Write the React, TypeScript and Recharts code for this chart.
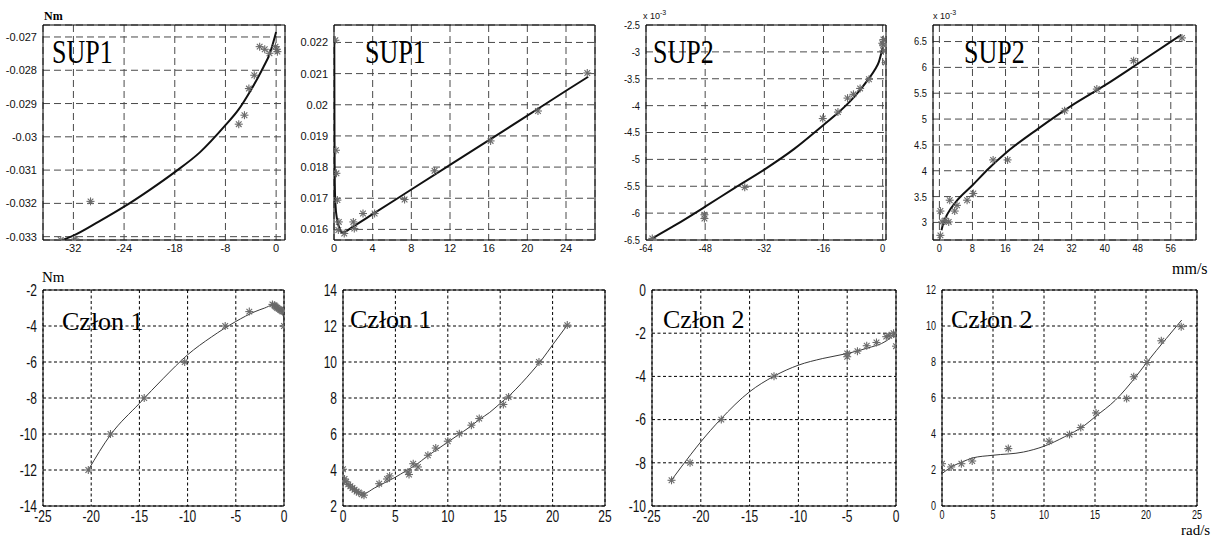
import React from "react";
import { ScatterChart, Scatter, XAxis, YAxis, CartesianGrid, ReferenceArea } from "recharts";

// SUP1, negative velocity (top row, 1st)
const sup1NegCurveX = [-34, -32, -28, -24, -20, -16, -12, -8, -6, -4, -2, -1, 0];
const sup1NegCurveY = [-0.03312, -0.03297, -0.03255, -0.0321, -0.0316, -0.03106, -0.03046, -0.02965, -0.0292, -0.0286, -0.0279, -0.0275, -0.02685];
const sup1NegPtsX = [-34.0, -31.7, -29.3, -5.9, -5.0, -4.3, -3.45, -2.6, -1.8, -1.05, -0.1, 0.2, 0.1];
const sup1NegPtsY = [-0.0331, -0.03307, -0.03194, -0.02962, -0.02935, -0.02855, -0.02815, -0.02729, -0.02737, -0.02749, -0.02729, -0.02744, -0.02737];
const sup1NegXTicks = [-32, -24, -16, -8, 0];
const sup1NegXLabels = ["-32", "-24", "-18", "-8", "0"]; // "-18" is how the original is labelled
const sup1NegYTicks = [-0.033, -0.032, -0.031, -0.03, -0.029, -0.028, -0.027];
const sup1NegYLabels = ["-0.033", "-0.032", "-0.031", "-0.03", "-0.029", "-0.028", "-0.027"];

// SUP1, positive velocity (top row, 2nd)
const sup1PosCurveX = [0.03, 0.05, 0.08, 0.15, 0.3, 0.55, 0.9, 2, 4, 8, 12, 16, 20, 24, 26.3];
const sup1PosCurveY = [0.0221, 0.019, 0.0175, 0.0168, 0.01635, 0.01605, 0.0159, 0.0161, 0.01649, 0.01728, 0.01807, 0.01886, 0.01965, 0.02045, 0.0209];
const sup1PosPtsX = [0.14, 0.2, 0.25, 0.35, 0.5, 0.45, 1.06, 2.0, 2.1, 3.0, 4.2, 7.3, 10.4, 16.2, 21.1, 26.2];
const sup1PosPtsY = [0.02207, 0.01854, 0.0178, 0.01694, 0.01624, 0.01598, 0.01587, 0.01624, 0.01603, 0.01651, 0.01651, 0.01696, 0.01788, 0.01884, 0.0198, 0.02102];
const sup1PosXTicks = [0, 4, 8, 12, 16, 20, 24];
const sup1PosXLabels = ["0", "4", "8", "12", "16", "20", "24"];
const sup1PosYTicks = [0.016, 0.017, 0.018, 0.019, 0.02, 0.021, 0.022];
const sup1PosYLabels = ["0.016", "0.017", "0.018", "0.019", "0.02", "0.021", "0.022"];

// SUP2, negative velocity, values x 10^-3 (top row, 3rd)
const sup2NegCurveX = [-62.3, -56, -48, -40, -32, -24, -16, -12, -8, -4, -2, -1, 0];
const sup2NegCurveY = [-6.47, -6.22, -5.88, -5.53, -5.19, -4.81, -4.36, -4.13, -3.86, -3.52, -3.32, -3.18, -2.92];
const sup2NegPtsX = [-62.3, -48.2, -48.2, -37.3, -16.2, -12.1, -9.5, -7.9, -6.1, -3.7, 0.2, 0.1, 0.2, 0.8, -0.1];
const sup2NegPtsY = [-6.47, -6.03, -6.1, -5.52, -4.24, -4.12, -3.86, -3.79, -3.68, -3.51, -2.77, -2.87, -2.98, -3.2, -2.84];
const sup2NegXTicks = [-64, -48, -32, -16, 0];
const sup2NegXLabels = ["-64", "-48", "-32", "-16", "0"];
const sup2NegYTicks = [-6.5, -6, -5.5, -5, -4.5, -4, -3.5, -3, -2.5];
const sup2NegYLabels = ["-6.5", "-6", "-5.5", "-5", "-4.5", "-4", "-3.5", "-3", "-2.5"];

// SUP2, positive velocity, values x 10^-3 (top row, 4th)
const sup2PosCurveX = [0.5, 1, 2, 4, 8, 12, 16, 24, 32, 40, 48, 58.5];
const sup2PosCurveY = [2.85, 3.0, 3.17, 3.4, 3.72, 4.05, 4.34, 4.82, 5.26, 5.65, 6.07, 6.63];
const sup2PosPtsX = [0.24, 0.24, 0.65, 1.45, 2.25, 2.5, 3.7, 4.25, 6.7, 8.2, 13.0, 16.5, 30.3, 38.1, 47.0, 58.7];
const sup2PosPtsY = [3.22, 2.75, 3.01, 3.04, 3.01, 3.43, 3.22, 3.33, 3.43, 3.56, 4.21, 4.21, 5.16, 5.58, 6.13, 6.57];
const sup2PosXTicks = [0, 8, 16, 24, 32, 40, 48, 56];
const sup2PosXLabels = ["0", "8", "16", "24", "32", "40", "48", "56"];
const sup2PosYTicks = [3, 3.5, 4, 4.5, 5, 5.5, 6, 6.5];
const sup2PosYLabels = ["3", "3.5", "4", "4.5", "5", "5.5", "6", "6.5"];

// Człon 1, negative (bottom row, 1st)
const cz1NegCurveX = [-20.3, -18, -15, -12.5, -10, -7.5, -5, -3, -2, -1.2, -0.6, -0.1, 0];
const cz1NegCurveY = [-12, -10.05, -8.3, -6.9, -5.6, -4.6, -3.75, -3.2, -3.0, -2.85, -2.95, -3.3, -3.9];
const cz1NegPtsX = [-20.3, -18, -14.5, -10.3, -6.1, -3.6, -1.2, -1.0, -0.9, -0.8, -0.7, -0.55, -0.4, -0.25, -0.15, 0];
const cz1NegPtsY = [-12, -10, -8, -6, -4, -3.2, -2.8, -2.85, -2.9, -2.95, -3.0, -3.05, -3.1, -3.15, -3.2, -4.0];
const cz1NegXTicks = [-25, -20, -15, -10, -5, 0];
const cz1NegXLabels = ["-25", "-20", "-15", "-10", "-5", "0"];
const cz1NegYTicks = [-14, -12, -10, -8, -6, -4, -2];
const cz1NegYLabels = ["-14", "-12", "-10", "-8", "-6", "-4", "-2"];

// Człon 1, positive (bottom row, 2nd)
const cz1PosCurveX = [0.05, 0.5, 1, 1.5, 2, 3, 4, 5, 6, 7, 8, 9, 10, 11, 12, 13, 14, 15, 16, 17, 18, 19, 20, 21.4];
const cz1PosCurveY = [3.45, 3.15, 2.95, 2.8, 2.7, 3.0, 3.3, 3.6, 3.95, 4.3, 4.75, 5.15, 5.55, 5.95, 6.35, 6.8, 7.2, 7.7, 8.2, 8.8, 9.45, 10.15, 10.95, 12.05];
const cz1PosPtsX = [0, 0.15, 0.3, 0.5, 0.7, 0.9, 1.1, 1.3, 1.5, 1.8, 2.0, 3.45, 4.2, 4.45, 6.2, 6.3, 6.7, 7.15, 8.1, 8.85, 10.0, 11.1, 12.25, 13.0, 15.3, 15.8, 18.7, 21.4];
const cz1PosPtsY = [4.04, 3.5, 3.35, 3.2, 3.1, 3.0, 2.9, 2.8, 2.75, 2.65, 2.6, 3.24, 3.5, 3.67, 3.89, 3.75, 4.35, 4.17, 4.82, 5.22, 5.6, 6.02, 6.49, 6.86, 7.64, 8.06, 10.0, 12.05];
const cz1PosXTicks = [0, 5, 10, 15, 20, 25];
const cz1PosXLabels = ["0", "5", "10", "15", "20", "25"];
const cz1PosYTicks = [2, 4, 6, 8, 10, 12, 14];
const cz1PosYLabels = ["2", "4", "6", "8", "10", "12", "14"];

// Człon 2, negative (bottom row, 3rd)
const cz2NegCurveX = [-23, -21, -20, -18, -15, -12.5, -10, -7.5, -5, -3, -1, 0];
const cz2NegCurveY = [-8.8, -7.6, -7.03, -6.0, -4.71, -3.99, -3.48, -3.17, -2.94, -2.7, -2.36, -2.0];
const cz2NegPtsX = [-23.0, -21.1, -17.9, -12.5, -5.0, -5.0, -3.95, -3.0, -2.0, -1.0, -0.7, -0.25, 0, 0];
const cz2NegPtsY = [-8.81, -8.0, -6.0, -3.99, -2.94, -3.09, -2.83, -2.58, -2.43, -2.16, -2.12, -2.0, -2.09, -2.6];
const cz2NegXTicks = [-25, -20, -15, -10, -5, 0];
const cz2NegXLabels = ["-25", "-20", "-15", "-10", "-5", "0"];
const cz2NegYTicks = [-10, -8, -6, -4, -2, 0];
const cz2NegYLabels = ["-10", "-8", "-6", "-4", "-2", "0"];

// Człon 2, positive (bottom row, 4th)
const cz2PosCurveX = [0, 1, 2, 3, 5, 8, 10, 12, 14, 15, 17, 19, 20, 22, 23.5];
const cz2PosCurveY = [1.8, 2.2, 2.45, 2.67, 2.82, 3.0, 3.32, 3.84, 4.49, 4.95, 5.88, 7.18, 7.92, 9.31, 10.33];
const cz2PosPtsX = [0, 0.9, 1.9, 2.96, 6.5, 10.5, 12.5, 13.6, 15.1, 18.1, 18.8, 20.1, 21.5, 23.45];
const cz2PosPtsY = [2.35, 2.17, 2.35, 2.5, 3.19, 3.6, 3.97, 4.36, 5.17, 5.97, 7.18, 7.97, 9.18, 9.96];
const cz2PosXTicks = [0, 5, 10, 15, 20, 25];
const cz2PosXLabels = ["0", "5", "10", "15", "20", "25"];
const cz2PosYTicks = [0, 2, 4, 6, 8, 10, 12];
const cz2PosYLabels = ["0", "2", "4", "6", "8", "10", "12"];

type Pt = { x: number; y: number };
const zip = (xs: number[], ys: number[]): Pt[] => xs.map((x, i) => ({ x, y: ys[i] }));

const SANS = "'Liberation Sans', Arial, sans-serif";
const SERIF = "'Liberation Serif', 'Times New Roman', serif";

function Asterisk(props: any) {
  const { cx, cy } = props;
  if (cx == null || cy == null) return <g />;
  const r = 4;
  const d = r * 0.7071;
  return (
    <g stroke="#6a6a6a" strokeWidth={1.1}>
      <line x1={cx - r} y1={cy} x2={cx + r} y2={cy} />
      <line x1={cx} y1={cy - r} x2={cx} y2={cy + r} />
      <line x1={cx - d} y1={cy - d} x2={cx + d} y2={cy + d} />
      <line x1={cx - d} y1={cy + d} x2={cx + d} y2={cy - d} />
    </g>
  );
}

const noDot = () => <g />;

interface PanelProps {
  box: [number, number, number, number]; // left, top, width, height of the plot frame
  xDomain: [number, number];
  yDomain: [number, number];
  xTicks: number[];
  xLabels: string[];
  yTicks: number[];
  yLabels: string[];
  curve: Pt[];
  points: Pt[];
  variant: "sup" | "czlon";
  fontSize: number;
  sx: number; // horizontal squeeze of tick labels
}

function Panel(p: PanelProps) {
  const [bl, bt, bw, bh] = p.box;
  const sup = p.variant === "sup";
  const fs = p.fontSize;
  const label = (ticks: number[], labels: string[], v: number) => {
    const i = ticks.indexOf(v);
    return i >= 0 ? labels[i] : String(v);
  };
  const XTick = (t: any) => (
    <text
      transform={`translate(${t.x},${t.y + fs * 0.72 + 2}) scale(${p.sx},1)`}
      textAnchor="middle"
      fontSize={fs}
      fontFamily={SANS}
      fill="#111"
    >
      {label(p.xTicks, p.xLabels, t.payload.value)}
    </text>
  );
  const YTick = (t: any) => (
    <text
      transform={`translate(${t.x - 4},${t.y + fs * 0.36}) scale(${p.sx},1)`}
      textAnchor="end"
      fontSize={fs}
      fontFamily={SANS}
      fill="#111"
    >
      {label(p.yTicks, p.yLabels, t.payload.value)}
    </text>
  );

  return (
    <div style={{ position: "absolute", left: bl - 50, top: bt - 10 }}>
      <ScatterChart width={bw + 60} height={bh + 35} margin={{ top: 10, right: 10, bottom: 0, left: 0 }}>
        <CartesianGrid
          stroke={sup ? "#4a4a4a" : "#000"}
          strokeDasharray={sup ? "7 4" : "3 2.5"}
          strokeWidth={1}
        />
        <XAxis
          type="number"
          dataKey="x"
          domain={p.xDomain}
          ticks={p.xTicks}
          interval={0}
          allowDataOverflow
          tick={XTick}
          tickLine={false}
          axisLine={false}
          tickSize={0}
          height={25}
        />
        <YAxis
          type="number"
          dataKey="y"
          domain={p.yDomain}
          ticks={p.yTicks}
          interval={0}
          allowDataOverflow
          tick={YTick}
          tickLine={false}
          axisLine={false}
          tickSize={0}
          width={50}
        />
        <Scatter
          data={p.curve}
          line={{ stroke: sup ? "#111" : "#3a3a3a", strokeWidth: sup ? 2 : 1 }}
          lineJointType="monotoneX"
          shape={noDot}
          isAnimationActive={false}
        />
        <Scatter data={p.points} shape={Asterisk} isAnimationActive={false} />
        <ReferenceArea
          x1={p.xDomain[0]}
          x2={p.xDomain[1]}
          y1={p.yDomain[0]}
          y2={p.yDomain[1]}
          fill="none"
          fillOpacity={0}
          stroke="#000"
          strokeWidth={1}
          ifOverflow="visible"
        />
      </ScatterChart>
    </div>
  );
}

export default function App() {
  return (
    <div style={{ position: "absolute", left: 0, top: 0, width: 1225, height: 537, background: "#fff", overflow: "hidden" }}>
      <Panel box={[43, 25, 242, 215]} xDomain={[-36.8, 1.4]} yDomain={[-0.0331, -0.02664]}
        xTicks={sup1NegXTicks} xLabels={sup1NegXLabels} yTicks={sup1NegYTicks} yLabels={sup1NegYLabels}
        curve={zip(sup1NegCurveX, sup1NegCurveY)} points={zip(sup1NegPtsX, sup1NegPtsY)}
        variant="sup" fontSize={11} sx={1} />
      <Panel box={[334, 25, 261, 215]} xDomain={[0, 27]} yDomain={[0.01566, 0.02256]}
        xTicks={sup1PosXTicks} xLabels={sup1PosXLabels} yTicks={sup1PosYTicks} yLabels={sup1PosYLabels}
        curve={zip(sup1PosCurveX, sup1PosCurveY)} points={zip(sup1PosPtsX, sup1PosPtsY)}
        variant="sup" fontSize={11} sx={1} />
      <Panel box={[646, 25, 240, 215]} xDomain={[-64, 0.9]} yDomain={[-6.5, -2.5]}
        xTicks={sup2NegXTicks} xLabels={sup2NegXLabels} yTicks={sup2NegYTicks} yLabels={sup2NegYLabels}
        curve={zip(sup2NegCurveX, sup2NegCurveY)} points={zip(sup2NegPtsX, sup2NegPtsY)}
        variant="sup" fontSize={11} sx={0.85} />
      <Panel box={[933, 25, 263, 215]} xDomain={[-1.55, 62.1]} yDomain={[2.66, 6.82]}
        xTicks={sup2PosXTicks} xLabels={sup2PosXLabels} yTicks={sup2PosYTicks} yLabels={sup2PosYLabels}
        curve={zip(sup2PosCurveX, sup2PosCurveY)} points={zip(sup2PosPtsX, sup2PosPtsY)}
        variant="sup" fontSize={11} sx={0.85} />

      <Panel box={[43, 290, 241, 216]} xDomain={[-25, 0]} yDomain={[-14, -2]}
        xTicks={cz1NegXTicks} xLabels={cz1NegXLabels} yTicks={cz1NegYTicks} yLabels={cz1NegYLabels}
        curve={zip(cz1NegCurveX, cz1NegCurveY)} points={zip(cz1NegPtsX, cz1NegPtsY)}
        variant="czlon" fontSize={16} sx={0.75} />
      <Panel box={[343, 290, 262, 216]} xDomain={[0, 25]} yDomain={[2, 14]}
        xTicks={cz1PosXTicks} xLabels={cz1PosXLabels} yTicks={cz1PosYTicks} yLabels={cz1PosYLabels}
        curve={zip(cz1PosCurveX, cz1PosCurveY)} points={zip(cz1PosPtsX, cz1PosPtsY)}
        variant="czlon" fontSize={16} sx={0.75} />
      <Panel box={[652, 290, 244, 216]} xDomain={[-25, 0]} yDomain={[-10, 0]}
        xTicks={cz2NegXTicks} xLabels={cz2NegXLabels} yTicks={cz2NegYTicks} yLabels={cz2NegYLabels}
        curve={zip(cz2NegCurveX, cz2NegCurveY)} points={zip(cz2NegPtsX, cz2NegPtsY)}
        variant="czlon" fontSize={16} sx={0.75} />
      <Panel box={[942, 290, 255, 216]} xDomain={[0, 25]} yDomain={[0, 12]}
        xTicks={cz2PosXTicks} xLabels={cz2PosXLabels} yTicks={cz2PosYTicks} yLabels={cz2PosYLabels}
        curve={zip(cz2PosCurveX, cz2PosCurveY)} points={zip(cz2PosPtsX, cz2PosPtsY)}
        variant="czlon" fontSize={12} sx={0.75} />

      {/* titles and unit labels */}
      <svg width={1225} height={537} style={{ position: "absolute", left: 0, top: 0, pointerEvents: "none" }}>
        <g fontFamily={SERIF} fill="#000">
          <text x={44} y={20} fontSize={12} fontWeight="bold">Nm</text>
          <text transform="translate(52,63) scale(1,1.28)" fontSize={26}>SUP1</text>
          <text transform="translate(365,63) scale(1,1.28)" fontSize={26}>SUP1</text>
          <text transform="translate(653,63) scale(1,1.28)" fontSize={26}>SUP2</text>
          <text transform="translate(964,63) scale(1,1.28)" fontSize={26}>SUP2</text>
          <text x={1172} y={274} fontSize={16}>mm/s</text>
          <text x={42} y={282} fontSize={15}>Nm</text>
          <text x={62} y={330} fontSize={26}>Człon 1</text>
          <text x={350} y={328} fontSize={26}>Człon 1</text>
          <text x={663} y={328} fontSize={26}>Człon 2</text>
          <text x={951} y={328} fontSize={26}>Człon 2</text>
          <text x={1181} y={535} fontSize={15}>rad/s</text>
        </g>
        <g fontFamily={SANS} fill="#111" fontSize={9}>
          <text x={643} y={19}>x 10<tspan dy={-4} fontSize={7}>-3</tspan></text>
          <text x={933} y={19}>x 10<tspan dy={-4} fontSize={7}>-3</tspan></text>
        </g>
      </svg>
    </div>
  );
}
